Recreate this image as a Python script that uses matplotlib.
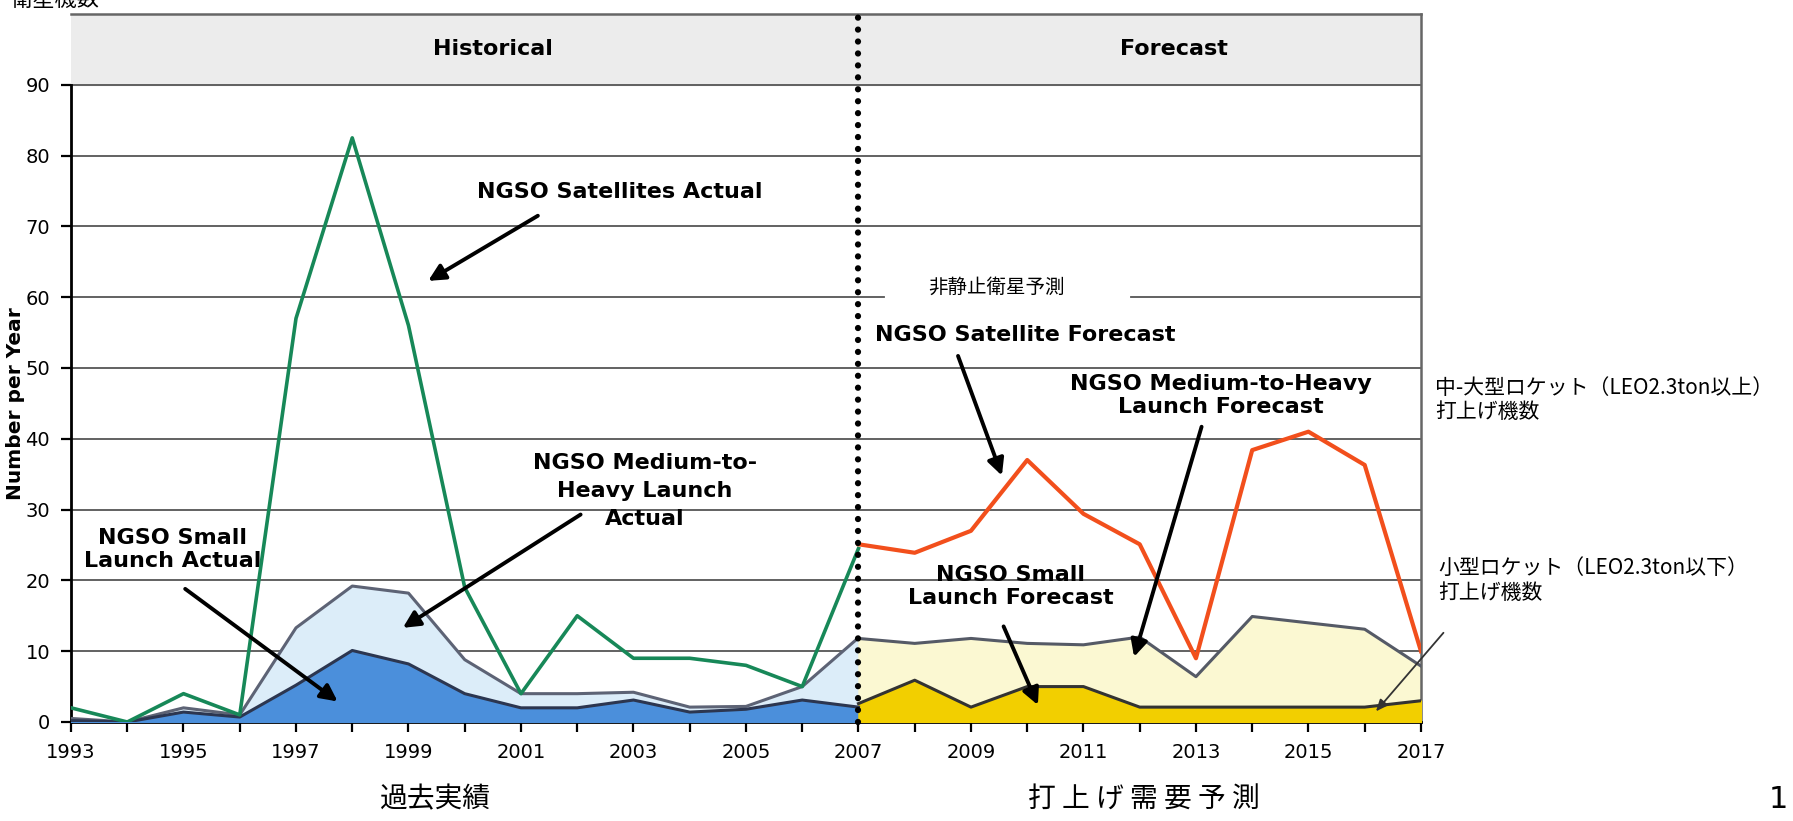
import numpy as np
import matplotlib.pyplot as plt

plt.rcParams['font.family'] = ['DejaVu Sans', 'Noto Sans CJK JP']

# 実績 (1993-2007)
histYears = np.arange(1993, 2008)
satActual = [2, 0, 4, 1, 57, 82.5, 56, 19, 4, 15, 9, 9, 8, 5, 24.5]
mediumActual = [0.5, 0, 2, 1, 13.3, 19.2, 18.2, 8.8, 4, 4, 4.2, 2.1, 2.2, 5, 11.9]
smallActual = [0.2, 0, 1.4, 0.7, 5.2, 10.1, 8.2, 4, 2, 2, 3.1, 1.4, 1.8, 3.1, 2.1]

# 予測 (2007-2017)
fcYears = np.arange(2007, 2018)
satForecast = [25.1, 23.9, 27, 37, 29.4, 25.1, 9, 38.4, 41, 36.3, 10]
mediumForecast = [11.8, 11.1, 11.8, 11.1, 10.9, 12, 6.4, 14.9, 14, 13.1, 7.9]
smallForecast = [2.6, 5.9, 2.1, 5, 5, 2.1, 2.1, 2.1, 2.1, 2.1, 3]

yTicks = list(range(0, 100, 10))
xTicks = list(range(1993, 2018))
xTickLabels = [str(y) if y % 2 == 1 else '' for y in xTicks]

jpFont = ['Noto Sans CJK JP', 'DejaVu Sans']
arrowProps = dict(arrowstyle='-|>,head_length=1.0,head_width=0.5', lw=2.8,
                  color='black', shrinkA=0, shrinkB=0)
boldText = dict(fontsize=16, fontweight='bold', ha='center', va='center',
                linespacing=1.2)

fig = plt.figure(figsize=(17.93, 8.21), dpi=100)
ax = fig.add_axes([0.0396, 0.1206, 0.7529, 0.8624])
ax.set_xlim(1993, 2017)
ax.set_ylim(0, 100)

# grid and header band
for y in yTicks[1:]:
    if y == 60:
        ax.plot([1993, 2007.45], [y, y], color='#555555', lw=1.3, zorder=1)
        ax.plot([2011.85, 2017], [y, y], color='#555555', lw=1.3, zorder=1)
    else:
        ax.axhline(y, color='#555555', lw=1.3, zorder=1)
ax.axhspan(90, 100, color='#ececec', zorder=0)

# historical areas
ax.fill_between(histYears, mediumActual, color='#dcedf9', zorder=2)
ax.plot(histYears, mediumActual, color='#5d6375', lw=2.2, zorder=3)
ax.fill_between(histYears, smallActual, color='#4b8fdb', zorder=3)
ax.plot(histYears, smallActual, color='#2c3650', lw=2.2, zorder=4)

# forecast areas
ax.fill_between(fcYears, mediumForecast, color='#fbf8d2', zorder=2)
ax.plot(fcYears, mediumForecast, color='#555a66', lw=2.2, zorder=3)
ax.fill_between(fcYears, smallForecast, color='#f2cf00', zorder=3)
ax.plot(fcYears, smallForecast, color='#333333', lw=2.2, zorder=4)

# satellite lines
ax.plot(histYears, satActual, color='#178858', lw=2.6, zorder=5)
ax.plot(fcYears, satForecast, color='#f24f1c', lw=3, zorder=5)

# boundary between historical and forecast
ax.plot([2007, 2007], [0, 100], color='black', lw=4.5, linestyle=(0, (0.01, 1.9)),
        dash_capstyle='round', zorder=6, clip_on=False)

ax.text(2000.5, 95, 'Historical', **boldText)
ax.text(2012.6, 95, 'Forecast', **boldText)

# labels and arrows
ax.text(2002.75, 74.8, 'NGSO Satellites Actual', **boldText)
ax.annotate('', xy=(1999.35, 62.3), xytext=(2001.3, 71.5), arrowprops=arrowProps, zorder=7)

ax.text(2003.2, 32.6, 'NGSO Medium-to-\nHeavy Launch\nActual',
        **dict(boldText, linespacing=1.5))
ax.annotate('', xy=(1998.9, 13.3), xytext=(2002.06, 29.3), arrowprops=arrowProps, zorder=7)

ax.text(1994.8, 24.4, 'NGSO Small\nLaunch Actual', **boldText)
ax.annotate('', xy=(1997.74, 2.9), xytext=(1995.03, 18.8), arrowprops=arrowProps, zorder=7)

ax.text(2009.45, 61.4, '非静止衛星予測', fontsize=14, family=jpFont,
        ha='center', va='center')

ax.text(2007.3, 54.6, 'NGSO Satellite Forecast', fontsize=16, fontweight='bold',
        ha='left', va='center')
ax.annotate('', xy=(2009.55, 34.8), xytext=(2008.77, 51.7), arrowprops=arrowProps, zorder=7)

ax.text(2013.45, 46.1, 'NGSO Medium-to-Heavy\nLaunch Forecast', **boldText)
ax.annotate('', xy=(2011.9, 9.2), xytext=(2013.1, 41.7), arrowprops=arrowProps, zorder=7)

ax.text(2009.7, 19.1, 'NGSO Small\nLaunch Forecast', **boldText)
ax.annotate('', xy=(2010.19, 2.4), xytext=(2009.58, 13.5), arrowprops=arrowProps, zorder=7)

ax.text(2017.25, 45.5, '中-大型ロケット（LEO2.3ton以上）\n打上げ機数', fontsize=15,
        family=jpFont, ha='left', va='center', linespacing=1.15, clip_on=False)
ax.text(2017.3, 20, '小型ロケット（LEO2.3ton以下）\n打上げ機数', fontsize=15,
        family=jpFont, ha='left', va='center', linespacing=1.15, clip_on=False)
ax.annotate('', xy=(2016.2, 1.5), xytext=(2017.4, 12.6),
            arrowprops=dict(arrowstyle='-|>,head_length=0.7,head_width=0.3', lw=1.3,
                            color='#333333', shrinkA=0, shrinkB=0),
            annotation_clip=False, zorder=7)

# axes styling
ax.set_yticks(yTicks)
ax.set_xticks(xTicks)
ax.set_xticklabels(xTickLabels)
ax.tick_params(axis='both', labelsize=14, width=1.6, length=7, direction='out', pad=8)
ax.set_ylabel('Number per Year', fontsize=14.5, fontweight='bold')
ax.yaxis.set_label_coords(-0.034, 0.45)
for side in ['left', 'bottom']:
    ax.spines[side].set_linewidth(2)
    ax.spines[side].set_color('black')
ax.spines['left'].set_bounds(0, 90)
for side in ['top', 'right']:
    ax.spines[side].set_linewidth(1.8)
    ax.spines[side].set_color('#666666')

fig.text(0.006, 1.0, '衛星機数', fontsize=16, family=jpFont, ha='left', va='center')
fig.text(0.243, 0.026, '過去実績', fontsize=20, family=jpFont, ha='center', va='center')
fig.text(0.638, 0.026, '打 上 げ 需 要 予 測', fontsize=20, family=jpFont,
         ha='center', va='center')
fig.text(0.992, 0.026, '1', fontsize=22, ha='center', va='center')

fig.savefig('out.png', dpi=100)
